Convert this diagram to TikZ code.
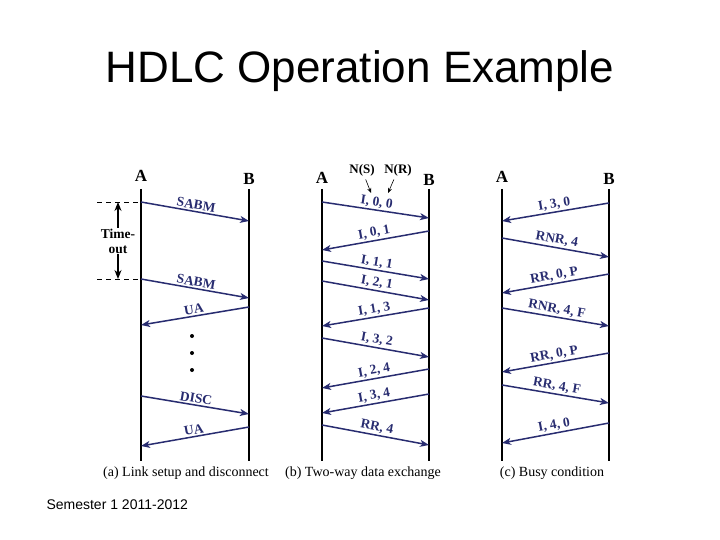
\documentclass[tikz,border=0pt]{standalone}
\usepackage{fontspec}
\setmainfont{Liberation Serif}
\newfontfamily\slidefont{Liberation Sans}
\usetikzlibrary{arrows.meta}
\definecolor{navy}{RGB}{40,44,112}
\tikzstyle{life}=[draw,line width=1.4pt,black]
\tikzstyle{msg}=[draw,line width=1.5pt,navy,-{Stealth[length=9pt,width=7pt,inset=2.5pt]}]
\tikzstyle{lbl}=[midway,above,sloped,inner sep=1.5pt,text=navy,font=\fontsize{13.5}{13.5}\selectfont\bfseries]
\tikzstyle{party}=[font=\fontsize{17}{17}\selectfont\bfseries]
\tikzstyle{caption}=[font=\fontsize{14}{14}\selectfont]
\tikzstyle{dot}=[circle,fill=black,minimum size=4pt,inner sep=0pt]

\begin{document}
\begin{tikzpicture}[x=1pt,y=-1pt]
      \useasboundingbox (0,0) rectangle (720,540);
      \node[font=\slidefont\fontsize{44}{44}\selectfont,anchor=base] (title) at (360,83) {HDLC Operation Example};
      \node[font=\slidefont\fontsize{14}{14}\selectfont,anchor=base west] (sem) at (43,509) {Semester 1 2011-2012};

      % stations and time lines
      \foreach \nm/\x/\y/\t in {aA/141/176/A,aB/249/179/B,bA/322/178/A,bB/429/180/B,cA/502/177/A,cB/609/179/B}{
        \node[party] (\nm) at (\x,\y) {\t};
        \coordinate (\nm top) at (\x,189);
        \coordinate (\nm bot) at (\x,461);
        \path[life] (\nm top) -- (\nm bot);
      }

      % (a) link setup
      \foreach \id/\xs/\ys/\xe/\ye/\txt in {1/141/202/249/221/SABM,2/141/279/249/298/SABM,
          3/249/307/141/325/UA,4/141/396/249/414/DISC,5/249/427/141/446/UA}{
        \coordinate (a\id s) at (\xs,\ys);
        \coordinate (a\id e) at (\xe,\ye);
        \path[msg] (a\id s) -- (a\id e) node[lbl] {\txt};
      }
      \coordinate (d1) at (97,202);
      \coordinate (d2) at (97,279);
      \path[draw,line width=0.8pt,dash pattern=on 5pt off 4pt] (d1) -- (a1s);
      \path[draw,line width=0.8pt,dash pattern=on 5pt off 4pt] (d2) -- (a2s);
      \node[font=\fontsize{13.5}{15}\selectfont\bfseries,align=center,inner sep=1pt] (tmo) at (118,241) {Time-\\out};
      \coordinate (tt) at (118,202);
      \coordinate (tb) at (118,279);
      \path[draw,line width=1.2pt,-{Stealth[length=9pt,width=7pt]}] (tmo) -- (tt);
      \path[draw,line width=1.2pt,-{Stealth[length=9pt,width=7pt]}] (tmo) -- (tb);
      \foreach \y in {336,353,370}{
        \node[dot] (p\y) at (192,\y) {};
      }

      % (b) two-way data
      \foreach \id/\xs/\ys/\xe/\ye/\txt in {1/322/202/429/218/{I, 0, 0},2/429/231/322/250/{I, 0, 1},
          3/322/261/429/279/{I, 1, 1},4/322/281/429/300/{I, 2, 1},5/429/308/322/326/{I, 1, 3},
          6/322/338/429/357/{I, 3, 2},7/429/369/322/388/{I, 2, 4},8/429/394/322/413/{I, 3, 4},
          9/322/425/429/445/{RR, 4}}{
        \coordinate (b\id s) at (\xs,\ys);
        \coordinate (b\id e) at (\xe,\ye);
        \path[msg] (b\id s) -- (b\id e) node[lbl] {\txt};
      }
      \node[font=\fontsize{13}{13}\selectfont\bfseries] (ns) at (362,170) {N(S)};
      \node[font=\fontsize{13}{13}\selectfont\bfseries] (nr) at (398,170) {N(R)};
      \coordinate (nsp) at (371,193);
      \coordinate (nrp) at (388,193);
      \path[draw,line width=0.6pt,-{Stealth[length=5pt,width=4pt]}] (ns) -- (nsp);
      \path[draw,line width=0.6pt,-{Stealth[length=5pt,width=4pt]}] (nr) -- (nrp);

      % (c) busy
      \foreach \id/\xs/\ys/\xe/\ye/\txt in {1/609/203/502/221/{I, 3, 0},2/502/238/609/257/{RNR, 4},
          3/609/274/502/293/{RR, 0, P},4/502/308/609/326/{RNR, 4, F},5/609/353/502/372/{RR, 0, P},
          6/502/385/609/403/{RR, 4, F},7/609/423/502/443/{I, 4, 0}}{
        \coordinate (c\id s) at (\xs,\ys);
        \coordinate (c\id e) at (\xe,\ye);
        \path[msg] (c\id s) -- (c\id e) node[lbl] {\txt};
      }

      \node[caption] (capa) at (186,473) {(a) Link setup and disconnect};
      \node[caption] (capb) at (363,473) {(b) Two-way data exchange};
      \node[caption] (capc) at (552,473) {(c) Busy condition};
    \end{tikzpicture}
\end{document}
